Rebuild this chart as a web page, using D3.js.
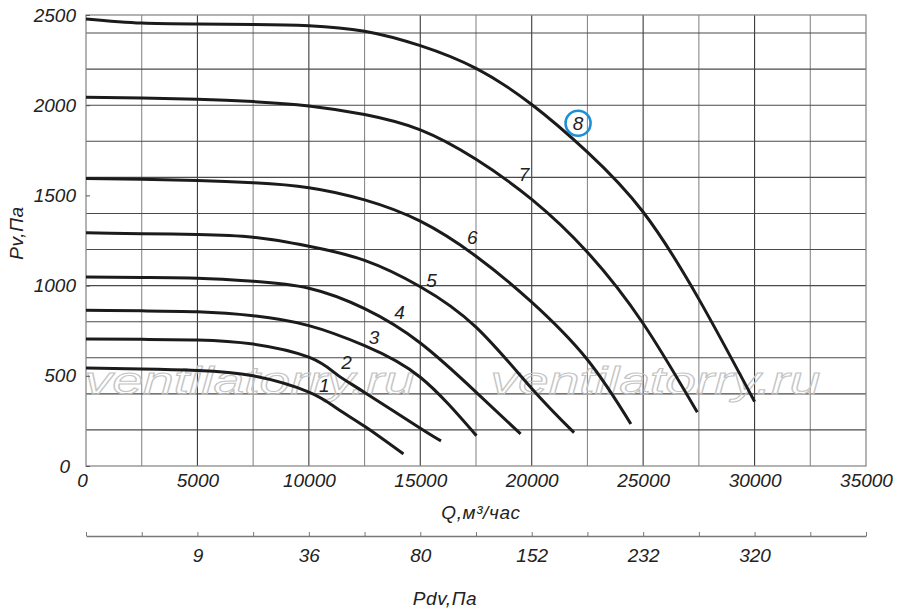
<!DOCTYPE html>
<html><head><meta charset="utf-8">
<script src="https://cdn.jsdelivr.net/npm/d3@7"></script>
<style>body{margin:0;background:#fff}text{font-family:"Liberation Sans",Arial,sans-serif;font-style:italic}</style>
</head><body><svg id="c" width="900" height="609"></svg>
<script>
// ---- data ----
const qTicks = [0,5000,10000,15000,20000,25000,30000,35000];
const pTicks = [0,500,1000,1500,2000,2500];
const pdvTickQ = [5000,10000,15000,20000,25000,30000];
const pdvLabels = ["9","36","80","152","232","320"];
const curveNames = ["1","2","3","4","5","6","7","8"];
const c1Q = [0,2500,5000,7500,10000,11250,12500,14240];
const c1P = [543,538,530,500,410,320,220,67];
const c2Q = [0,2500,5000,7500,10000,11250,12500,15000,15930];
const c2P = [704,702,699,676,603,508,408,209,139];
const c3Q = [0,2500,5000,7500,10000,12500,15000,17520];
const c3P = [863,860,855,833,778,667,492,168];
const c4Q = [0,2500,5000,7500,10000,12500,15000,17500,19500];
const c4P = [1048,1045,1041,1024,985,872,682,410,178];
const c5Q = [0,2500,5000,7500,10000,12500,15000,17500,20000,21900];
const c5P = [1293,1288,1283,1268,1218,1140,994,770,430,185];
const c6Q = [0,2500,5000,7500,10000,12500,15000,17500,20000,22500,24450];
const c6P = [1593,1590,1583,1570,1543,1475,1357,1163,908,589,233];
const c7Q = [0,2500,5000,7500,10000,12500,15000,17500,20000,22500,25000,27430];
const c7P = [2044,2040,2033,2020,1996,1948,1863,1700,1478,1185,790,298];
const c8Q = [0,2500,5000,7500,10000,12500,15000,17500,20000,22500,25000,27500,30000];
const c8P = [2478,2455,2450,2448,2441,2410,2330,2204,2004,1740,1408,925,357];
const labelQ = [10690,11690,12920,14070,15510,17330,19660,22080];
const labelP = [445,575,715,852,1027,1265,1615,1900];
const watermark = "ventilatorry.ru";

const curvesQ = [c1Q,c2Q,c3Q,c4Q,c5Q,c6Q,c7Q,c8Q];
const curvesP = [c1P,c2P,c3P,c4P,c5P,c6P,c7P,c8P];

// ---- layout ----
const svg = d3.select("#c");
const x = d3.scaleLinear().domain([0,35000]).range([86,866]);
const y = d3.scaleLinear().domain([0,2500]).range([466,15]);

// grid
const g = svg.append("g");
g.selectAll("line.v").data(d3.range(2500,35000,2500)).join("line")
  .attr("x1",d=>x(d)).attr("x2",d=>x(d)).attr("y1",y(0)).attr("y2",y(2500))
  .attr("stroke",d=>d%5000===0?"#3a3a3a":"#8a8a8a").attr("stroke-width",1.1);
g.selectAll("line.h").data(d3.range(200,2500,200)).join("line")
  .attr("x1",x(0)).attr("x2",x(35000)).attr("y1",d=>y(d)).attr("y2",d=>y(d))
  .attr("stroke","#4a4a4a").attr("stroke-width",1.1);
g.append("rect").attr("x",x(0)).attr("y",y(2500)).attr("width",x(35000)-x(0)).attr("height",y(0)-y(2500))
  .attr("fill","none").attr("stroke","#8a8a8a").attr("stroke-width",1.3);

// watermark
[0.21,0.73].forEach(f=>{
  svg.append("text").text(watermark)
    .attr("x",x(0)+f*(x(35000)-x(0))).attr("y",394).attr("text-anchor","middle")
    .attr("font-size",38).attr("textLength",330).attr("lengthAdjust","spacingAndGlyphs")
    .attr("fill","none").attr("stroke","#c4c4c4").attr("stroke-width",1);
});

// axes
const fontStyle = sel => sel.attr("font-size",19).attr("fill","#222")
  .style("font-family",'"Liberation Sans",Arial').style("font-style","italic");
const ax = svg.append("g").attr("transform",`translate(0,${y(0)})`)
  .call(d3.axisBottom(x).tickValues(qTicks).tickSize(0).tickPadding(8).tickFormat(d3.format("d")));
ax.select(".domain").remove();
ax.selectAll("text").call(fontStyle).attr("dx",d=>d===0?"-4":"0");

const ay = svg.append("g").attr("transform",`translate(${x(0)},0)`)
  .call(d3.axisLeft(y).tickValues(pTicks).tickSizeInner(-4).tickSizeOuter(0).tickPadding(10).tickFormat(d3.format("d")));
ay.select(".domain").remove();
ay.selectAll("line").attr("stroke","#555");
ay.selectAll("text").call(fontStyle).attr("dx",d=>d===0?"-6":"0");

// Pdv axis
const pdvMap = new Map(pdvTickQ.map((q,i)=>[q,pdvLabels[i]]));
const ap = svg.append("g").attr("transform","translate(0,536)")
  .call(d3.axisBottom(x).tickValues(d3.range(0,35001,2500)).tickSizeInner(-4).tickSizeOuter(0).tickPadding(13)
    .tickFormat(d=>pdvMap.get(d)||""));
ap.select(".domain").attr("stroke","#777").attr("stroke-width",1.6);
ap.selectAll("line").attr("stroke","#777");
ap.selectAll("text").call(fontStyle);

// titles
svg.append("text").text("Q,м³/час").attr("x",481).attr("y",519).attr("text-anchor","middle")
  .attr("font-size",19).attr("fill","#222").attr("letter-spacing",0.6);
svg.append("text").text("Pdv,Па").attr("x",445).attr("y",605).attr("text-anchor","middle")
  .attr("font-size",19).attr("fill","#222").attr("letter-spacing",0.6);
svg.append("text").text("Pv,Па").attr("transform","translate(23,233) rotate(-90)").attr("text-anchor","middle")
  .attr("font-size",19).attr("fill","#222").attr("letter-spacing",0.6);

// curves
const line = d3.line().x(d=>x(d[0])).y(d=>y(d[1])).curve(d3.curveNatural);
curvesQ.forEach((qs,i)=>{
  const pts = qs.map((q,j)=>[q,curvesP[i][j]]);
  svg.append("path").attr("d",line(pts)).attr("fill","none").attr("stroke","#1b1b1b")
    .attr("stroke-width",3).attr("stroke-linecap","butt");
});

// curve labels
curveNames.forEach((n,i)=>{
  svg.append("text").text(n).attr("x",x(labelQ[i])).attr("y",y(labelP[i]))
    .attr("text-anchor","middle").attr("dominant-baseline","central")
    .attr("font-size",19).attr("fill","#222");
});
svg.append("circle").attr("cx",x(labelQ[7])).attr("cy",y(labelP[7])).attr("r",12.5)
  .attr("fill","none").attr("stroke","#1d8fd8").attr("stroke-width",2.6);
</script></body></html>
